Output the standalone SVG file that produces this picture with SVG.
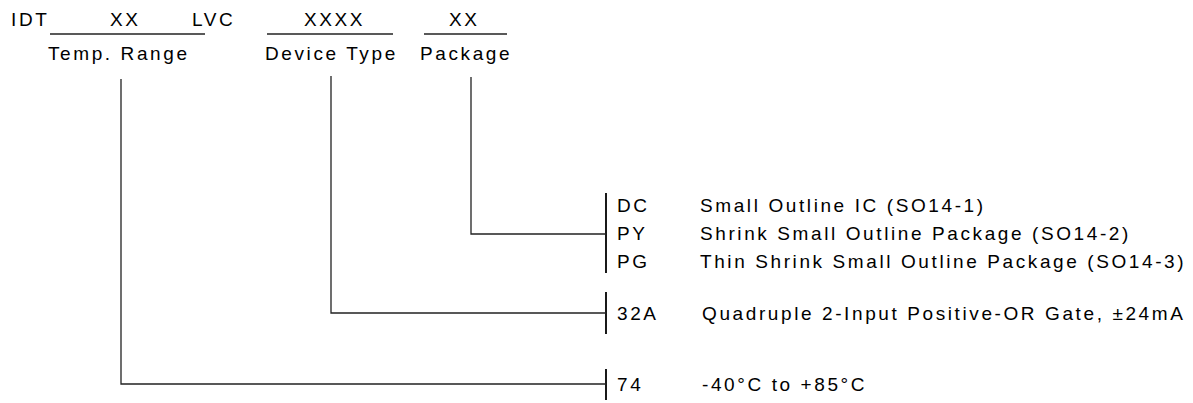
<svg xmlns="http://www.w3.org/2000/svg" width="1193" height="403" viewBox="0 0 1193 403">
<style>
text{font-family:"Liberation Sans",Arial,sans-serif;font-size:19px;fill:#000;letter-spacing:2.6px}
.ln{stroke:#222;stroke-width:1.3;fill:none}
.bar{stroke:#000;stroke-width:1.8;fill:none}
</style>
<rect width="1193" height="403" fill="#fff"/>
<g id="header">
<text x="11" y="26">IDT</text>
<line class="ln" x1="50" y1="34" x2="205" y2="34"/>
<text x="110" y="26">XX</text>
<text x="192" y="26">LVC</text>
<line class="ln" x1="267" y1="34" x2="393" y2="34"/>
<text x="304" y="26">XXXX</text>
<line class="ln" x1="424" y1="34" x2="507" y2="34"/>
<text x="449" y="26">XX</text>
</g>
<g id="temp-range"><text x="48" y="60">Temp. Range</text></g>
<g id="device-type"><text x="265" y="60">Device Type</text></g>
<g id="package"><text x="420" y="60">Package</text></g>
<g id="package-options">
<line class="bar" x1="606" y1="193" x2="606" y2="273"/>
<text x="617" y="212">DC</text><text x="700" y="212">Small Outline IC (SO14-1)</text>
<text x="617" y="240">PY</text><text x="700" y="240">Shrink Small Outline Package (SO14-2)</text>
<text x="617" y="268">PG</text><text x="700" y="268">Thin Shrink Small Outline Package (SO14-3)</text>
</g>
<g id="device-options">
<line class="bar" x1="606" y1="292" x2="606" y2="334"/>
<text x="617" y="320">32A</text><text x="702" y="320">Quadruple 2-Input Positive-OR Gate, ±24mA</text>
</g>
<g id="temp-options">
<line class="bar" x1="606" y1="369" x2="606" y2="400"/>
<text x="617" y="391">74</text><text x="702" y="391">-40°C to +85°C</text>
</g>
<g id="connectors">
<polyline class="ln" points="121,79 121,384 606,384"/>
<polyline class="ln" points="331,76 331,313 606,313"/>
<polyline class="ln" points="471,77 471,234 606,234"/>
</g>
</svg>
